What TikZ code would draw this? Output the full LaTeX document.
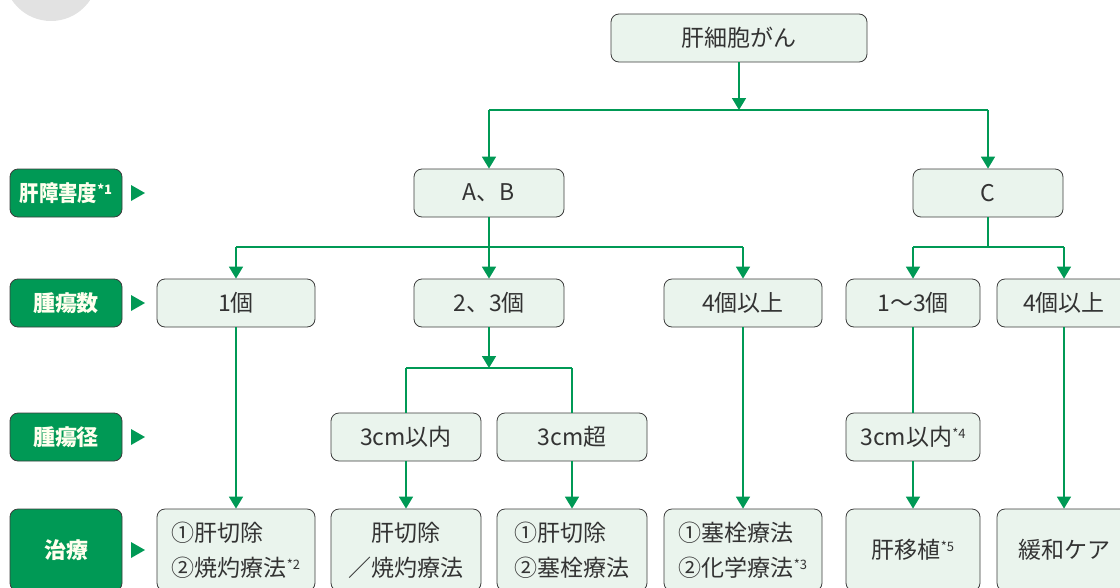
\documentclass[tikz,border=0pt]{standalone}
\usepackage{fontspec}
\usepackage{graphicx}
\setmainfont{Noto Sans CJK JP}
\usetikzlibrary{arrows.meta}
\definecolor{lgreen}{RGB}{0,153,85}
\definecolor{boxfill}{RGB}{234,244,237}
\definecolor{boxline}{RGB}{60,60,60}
\definecolor{txt}{RGB}{51,51,51}
\definecolor{labtxt}{RGB}{255,255,238}
\definecolor{circgray}{RGB}{226,226,226}
\newcommand{\sstar}[1]{{\fontsize{13}{13}\selectfont\raisebox{7pt}{*#1}}}
\tikzset{
  box/.style={draw=boxline, line width=0.8pt, fill=boxfill, rounded corners=8pt,
    inner sep=0pt, text=txt, font=\fontsize{23}{23}\selectfont, align=center},
  lab/.style={draw=boxline, line width=0.8pt, fill=lgreen, rounded corners=8pt,
    inner sep=0pt, text=labtxt, font=\fontsize{22}{22}\selectfont\bfseries,
    minimum width=112pt},
  conn/.style={draw=lgreen, line width=1.6pt},
  arr/.style={conn, -{Triangle[width=14pt,length=12pt]}},
  tri/.style={fill=lgreen, draw=none}
}
\begin{document}
\begin{tikzpicture}[x=1pt,y=-1pt]
\useasboundingbox (0,0) rectangle (1120,587);
\fill[circgray] (51,-26) circle (47);
% nodes
\node[box, minimum width=256pt, minimum height=48pt] (top) at (739,38) {肝細胞がん};
\node[box, minimum width=150pt, minimum height=48pt] (ab) at (489,193) {A、B};
\node[box, minimum width=150pt, minimum height=48pt] (c) at (988,193) {C};
\node[box, minimum width=158pt, minimum height=48pt] (n1) at (236,303) {1個};
\node[box, minimum width=150pt, minimum height=48pt] (n23) at (489,303) {2、3個};
\node[box, minimum width=158pt, minimum height=48pt] (n4a) at (743,303) {4個以上};
\node[box, minimum width=134pt, minimum height=48pt] (n13) at (913,303) {1～3個};
\node[box, minimum width=134pt, minimum height=48pt] (n4b) at (1064,303) {4個以上};
\node[box, minimum width=150pt, minimum height=48pt] (d1) at (406,437) {3cm以内};
\node[box, minimum width=150pt, minimum height=48pt] (d2) at (572,437) {3cm超};
\node[box, minimum width=134pt, minimum height=48pt] (d3) at (913,437) {3cm以内\sstar{4}};
\node[box, minimum width=158pt, minimum height=82pt, align=left] (t1) at (236,550) {①肝切除\\[12pt]②焼灼療法\sstar{2}};
\node[box, minimum width=150pt, minimum height=82pt] (t2) at (406,550) {肝切除\\[12pt]／焼灼療法};
\node[box, minimum width=150pt, minimum height=82pt, align=left] (t3) at (572,550) {①肝切除\\[12pt]②塞栓療法};
\node[box, minimum width=158pt, minimum height=82pt, align=left] (t4) at (743,550) {①塞栓療法\\[12pt]②化学療法\sstar{3}};
\node[box, minimum width=134pt, minimum height=82pt] (t5) at (913,550) {肝移植\sstar{5}};
\node[box, minimum width=134pt, minimum height=82pt] (t6) at (1064,550) {緩和ケア};
% left labels
\node[lab, minimum height=48pt] (l1) at (66,193) {\scalebox{0.88}[1]{肝障害度}\sstar{1}};
\node[lab, minimum height=48pt] (l2) at (66,303) {腫瘍数};
\node[lab, minimum height=48pt] (l3) at (66,437) {腫瘍径};
\node[lab, minimum height=82pt] (l4) at (66,550) {治療};
\foreach \y in {193,303,437,550} {\path[tri] (131,\y-8) -- (145,\y) -- (131,\y+8) -- cycle;}
% connectors
\coordinate (j1) at (739,110);
\draw[arr] (top.south) -- (j1);
\draw[conn] (ab |- j1) -- (c |- j1);
\draw[arr] (ab |- j1) -- (ab.north);
\draw[arr] (c |- j1) -- (c.north);
\coordinate (j2) at (489,247);
\draw[conn] (ab.south) -- (j2);
\draw[conn] (n1 |- j2) -- (n4a |- j2);
\draw[arr] (n1 |- j2) -- (n1.north);
\draw[arr] (n23 |- j2) -- (n23.north);
\draw[arr] (n4a |- j2) -- (n4a.north);
\coordinate (j3) at (988,247);
\draw[conn] (c.south) -- (j3);
\draw[conn] (n13 |- j3) -- (n4b |- j3);
\draw[arr] (n13 |- j3) -- (n13.north);
\draw[arr] (n4b |- j3) -- (n4b.north);
\coordinate (j4) at (489,368);
\draw[arr] (n23.south) -- (j4);
\draw[conn] (d1 |- j4) -- (d2 |- j4);
\draw[conn] (d1 |- j4) -- (d1.north);
\draw[conn] (d2 |- j4) -- (d2.north);
\draw[arr] (d1.south) -- (t2.north);
\draw[arr] (d2.south) -- (t3.north);
\draw[arr] (n1.south) -- (t1.north);
\draw[arr] (n4a.south) -- (t4.north);
\draw[conn] (n13.south) -- (d3.north);
\draw[arr] (d3.south) -- (t5.north);
\draw[arr] (n4b.south) -- (t6.north);
\end{tikzpicture}
\end{document}
